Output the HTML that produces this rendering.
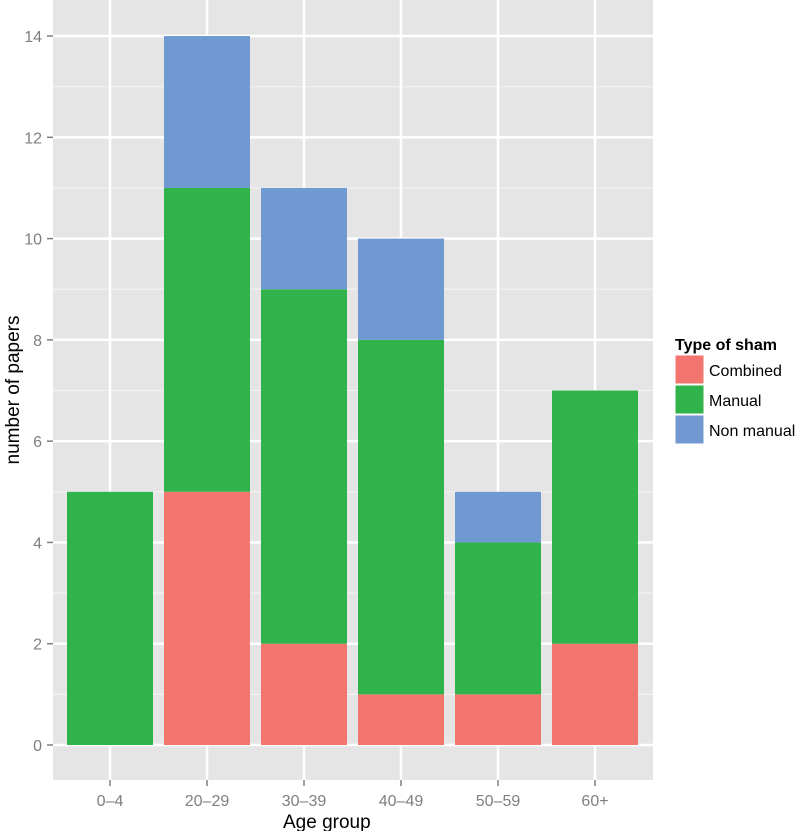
<!DOCTYPE html>
<html><head><meta charset="utf-8"><style>
body{margin:0;background:#fff;font-family:"Liberation Sans",Arial,sans-serif}
</style></head><body>
<svg id="chart" width="800" height="831" xmlns="http://www.w3.org/2000/svg">
<rect x="53" y="0" width="600" height="780" fill="#e5e5e5"/>
<g id="grid"></g><g id="bars"></g><g id="axes"></g>
<text x="200" y="828" font-size="19" fill="#000" transform="translate(0,0)"><tspan x="283">Age group</tspan></text>
<text transform="translate(19,390) rotate(-90)" text-anchor="middle" font-size="19" fill="#000">number of papers</text>
<g>
<text x="675" y="350" font-size="16" font-weight="bold">Type of sham</text>
<g id="legend"></g>
</g>
</svg>
<script>
const categories=["0\u20134","20\u201329","30\u201339","40\u201349","50\u201359","60+"];
const combined=[0,5,2,1,1,2];
const manual=[5,6,7,7,3,5];
const nonManual=[0,3,2,2,1,0];
const seriesNames=["Combined","Manual","Non manual"];
const colors=["#f2766d","#30b34a","#7099d1"];
const yTicks=[0,2,4,6,8,10,12,14];
const NS="http://www.w3.org/2000/svg";
const x0=110,band=97,bw=86;
function xs(i){return x0+i*band;}
function ys(v){return 745-v*50.64;}
function mk(t,a,p){const e=document.createElementNS(NS,t);for(const k in a)e.setAttribute(k,a[k]);p.appendChild(e);return e;}
const grid=document.getElementById('grid'),bars=document.getElementById('bars'),axes=document.getElementById('axes'),leg=document.getElementById('legend');
for(let i=0;i<yTicks.length-1;i++){const v=(yTicks[i]+yTicks[i+1])/2;const l=mk('line',{x1:53,x2:653,y1:ys(v),y2:ys(v),stroke:'#f2f2f2','stroke-width':1.2},grid);}
yTicks.forEach(v=>{const l=mk('line',{x1:53,x2:653,y1:ys(v),y2:ys(v),stroke:'#fff','stroke-width':2.5},grid);
const t=mk('line',{x1:47,x2:53,y1:ys(v),y2:ys(v),stroke:'#7f7f7f','stroke-width':1.5},axes);
const tx=mk('text',{x:42,y:ys(v)+6,'text-anchor':'end','font-size':16,fill:'#7f7f7f'},axes);tx.textContent=v;});
categories.forEach((c,i)=>{const x=xs(i);
const l=mk('line',{x1:x,x2:x,y1:0,y2:780,stroke:'#fff','stroke-width':2.5},grid);
const t=mk('line',{x1:x,x2:x,y1:780,y2:786,stroke:'#7f7f7f','stroke-width':1.5},axes);
const tx=mk('text',{x:x,y:806,'text-anchor':'middle','font-size':16,fill:'#7f7f7f'},axes);tx.textContent=c;
let base=0;[combined[i],manual[i],nonManual[i]].forEach((v,s)=>{if(v>0){const r=mk('rect',{x:x-bw/2,y:ys(base+v),width:bw,height:ys(base)-ys(base+v),fill:colors[s]},bars);}base+=v;});});
seriesNames.forEach((n,s)=>{const y=355+s*30;
const r=mk('rect',{x:675,y:y,width:29,height:29,fill:colors[s],stroke:'#fff','stroke-width':1},leg);
const t=mk('text',{x:709,y:y+21,'font-size':16,fill:'#000'},leg);t.textContent=n;});
</script>
</body></html>
